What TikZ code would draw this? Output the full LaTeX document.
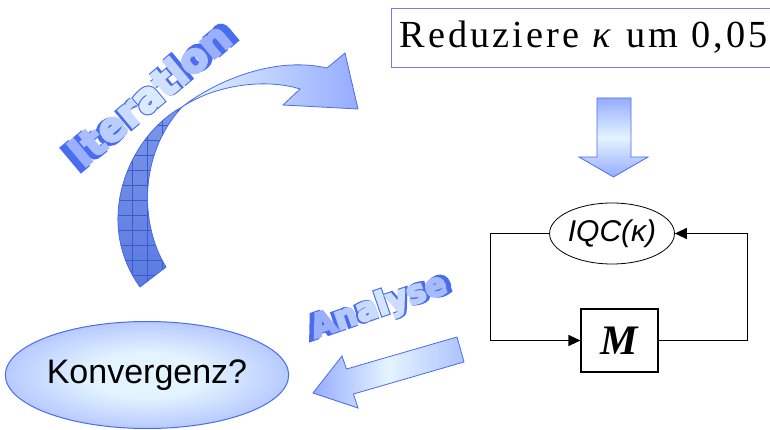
\documentclass[tikz,border=0pt]{standalone}
\usepackage{fontspec}
\setmainfont{Liberation Serif}
\setsansfont{Liberation Sans}
\newfontfamily\heavyfont[LetterSpace=4]{DejaVu Sans}
\newfontfamily\spacedserif[LetterSpace=8]{Liberation Serif}
\usetikzlibrary{arrows.meta,positioning,shapes.geometric}
\definecolor{EdgeBlue}{RGB}{74,108,240}
\definecolor{ArrowBlue}{RGB}{150,172,255}
\definecolor{ArrowLight}{RGB}{228,244,255}
\definecolor{DarkTop}{RGB}{125,152,232}
\definecolor{DarkBottom}{RGB}{88,120,224}
\definecolor{GridBlue}{RGB}{60,90,205}
\definecolor{BoxEdge}{RGB}{120,120,255}
% stroked glyphs for the heavy labels
\newcommand\strokeon[1]{\special{pdf:literal direct 2 Tr #1 w}}
\newcommand\strokeoff{\special{pdf:literal direct 0 Tr}}
\newcommand\wtint[2]{{\color{ArrowBlue!#1!ArrowLight}#2}}
\pgfdeclareradialshading{konvshade}{\pgfpointorigin}{%
  color(0bp)=(ArrowLight); color(10bp)=(ArrowLight);
  color(32bp)=(ArrowBlue!85!ArrowLight); color(50bp)=(ArrowBlue)}
\tikzset{
  kappabox/.style={draw=BoxEdge,line width=1pt,inner xsep=8pt,inner ysep=11pt,
    text width=380pt,align=left,
    text height=28pt,text depth=9pt,font=\spacedserif\fontsize{38.3}{42}\selectfont},
  iqcnode/.style={draw,ellipse,line width=0.8pt,minimum width=122,minimum height=61,
    inner sep=0pt,font=\sffamily\itshape\fontsize{30}{32}\selectfont},
  plantbox/.style={draw,rectangle,line width=1.2pt,minimum width=77,minimum height=63,
    font=\bfseries\itshape\fontsize{42}{44}\selectfont},
  konvnode/.style={draw=EdgeBlue,ellipse,line width=1pt,shading=konvshade,
    minimum width=268,minimum height=107,inner sep=0pt,
    font=\sffamily\fontsize{34}{36}\selectfont},
  blockarrow/.style={draw=EdgeBlue,line width=0.8pt,line join=miter},
  loopline/.style={draw=black,line width=1.3pt},
  looparrow/.style={loopline,-{Triangle[length=12pt,width=11pt]}},
  wordart/.style={font=\heavyfont\bfseries\fontsize{#1}{#1}\selectfont,inner sep=0pt},
}

\begin{document}
\begin{tikzpicture}[x=1pt,y=-1pt]
  \useasboundingbox (0,0) rectangle (770,430);

  % iteration arrow: dark back side with grid
  \begin{scope}
    \path[clip] (182,107) .. controls (130,135) and (92,220) .. (140,287)
      -- (166,267) .. controls (140,225) and (138,155) .. (182,107) -- cycle;
    \fill[top color=DarkTop,bottom color=DarkBottom] (100,100) rectangle (200,300);
    \draw[GridBlue,line width=0.5pt,shift={(-3,5)}] (90,90) grid[step=15pt] (210,310);
  \end{scope}
  \draw[blockarrow] (182,107) .. controls (130,135) and (92,220) .. (140,287)
    -- (166,267) .. controls (140,225) and (138,155) .. (182,107) -- cycle;
  % front side with head
  \path[blockarrow,left color=ArrowLight,right color=ArrowBlue]
    (182,107) .. controls (210,85) and (270,55) .. (327,68) -- (345,53)
    -- (358,109) -- (283,105) -- (300,89)
    .. controls (265,78) and (215,85) .. (182,107) -- cycle;

  % labels along the arrows
  \node[wordart=40,rotate=40,text=EdgeBlue] (itlabel) at (149,94)
    {\strokeon{4.6}Iteration\strokeoff};
  \node[wordart=40,rotate=40] at (itlabel.center)
    {\strokeon{2.4}\wtint{95}{I}\wtint{75}{t}\wtint{55}{e}\wtint{35}{r}\wtint{12}{a}%
     \wtint{25}{t}\wtint{45}{i}\wtint{70}{o}\wtint{95}{n}\strokeoff};
  \node[wordart=32,rotate=19,text=EdgeBlue] (anlabel) at (379,307)
    {\strokeon{4.4}Analyse\strokeoff};
  \node[wordart=32,rotate=19] at (anlabel.center)
    {\strokeon{2.2}\wtint{95}{A}\wtint{60}{n}\wtint{35}{a}\wtint{20}{l}\wtint{30}{y}%
     \wtint{55}{s}\wtint{80}{e}\strokeoff};

  % step box and down arrow
  \node[kappabox,anchor=west] (reduce) at (391,38) {Reduziere \textit{κ} um 0,05};
  \path[blockarrow,top color=ArrowBlue,bottom color=ArrowBlue,middle color=ArrowLight]
    (597,98) -- (631,98) -- (631,157) -- (648,157) -- (613.5,177)
    -- (579,157) -- (597,157) -- cycle;

  % feedback loop
  \node[iqcnode] (iqc) at (612,233.5) {IQC(κ)};
  \node[plantbox] (plant) at (619.5,340.5) {M};
  \draw[looparrow] (iqc.west) -- ++(-59,0) |- (plant.west);
  \draw[looparrow] (plant.east) -- ++(89,0) |- (iqc.east);

  % analysis arrow and result
  \path[blockarrow,left color=ArrowBlue,right color=ArrowBlue!70!ArrowLight,
        middle color=ArrowLight]
    (457,337) -- (464,362) -- (353.5,394) -- (358,408) -- (313,393)
    -- (342,356) -- (346.5,369) -- cycle;
  \node[konvnode] (konv) at (147,375) {Konvergenz?};
\end{tikzpicture}
\end{document}
